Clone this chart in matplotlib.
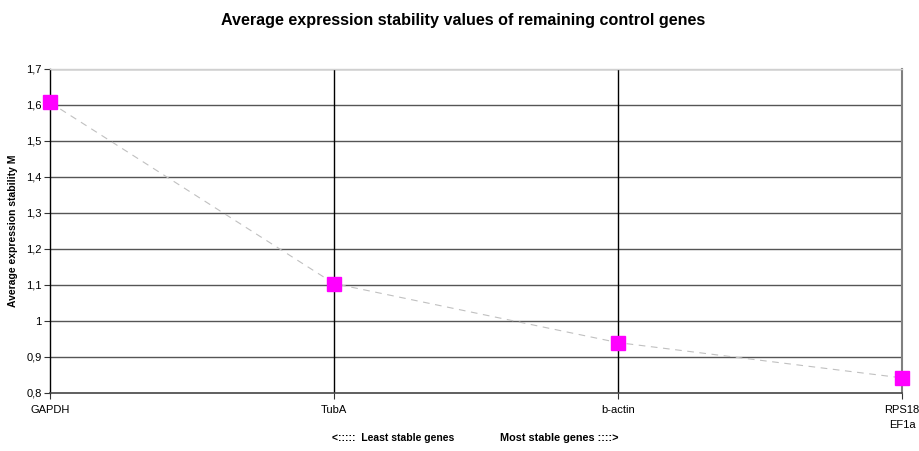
import matplotlib
matplotlib.use("Agg")
import matplotlib.pyplot as plt
import numpy as np

plt.rcParams['font.family'] = ['Liberation Sans', 'DejaVu Sans']

genes = ["GAPDH", "TubA", "b-actin", "RPS18\nEF1a"]
m_values = [1.607, 1.104, 0.940, 0.842]
y_ticks = [0.8, 0.9, 1.0, 1.1, 1.2, 1.3, 1.4, 1.5, 1.6, 1.7]
y_tick_labels = ["0,8", "0,9", "1", "1,1", "1,2", "1,3", "1,4", "1,5", "1,6", "1,7"]

fig = plt.figure(figsize=(9.2, 4.51), dpi=100)
ax = fig.add_axes([50/920, 1-393/451, (902-50)/920, (393-69)/451])

x = np.arange(len(genes))
ax.set_xlim(0, len(genes)-1)
ax.set_ylim(0.8, 1.7)

for yv in y_ticks[1:]:
    ax.axhline(yv, color="#555555", lw=1.0, zorder=1)
for xv in x[1:-1]:
    ax.axvline(xv, color="black", lw=1.0, zorder=1)

ax.plot(x, m_values, linestyle=(0, (6, 5)), color="#c0c0c0", lw=0.8, zorder=2)
ax.plot(x, m_values, linestyle="none", marker="s", markersize=10,
        markerfacecolor="#ff00ff", markeredgecolor="#ff00ff", zorder=3, clip_on=False)

ax.set_xticks(x)
ax.set_xticklabels(genes, fontsize=8, linespacing=1.6)
ax.set_yticks(y_ticks)
ax.set_yticklabels(y_tick_labels, fontsize=8)
ax.tick_params(axis="x", length=4, width=0.8, color="#333333", pad=4.5)
ax.tick_params(axis="y", length=4, width=0.8, color="#333333", pad=2)

ax.spines["left"].set_color("black")
ax.spines["left"].set_linewidth(1.0)
ax.spines["bottom"].set_color("#444444")
ax.spines["bottom"].set_linewidth(1.2)
ax.spines["top"].set_color("#d0d0d0")
ax.spines["top"].set_linewidth(1.0)
ax.spines["right"].set_color("#808080")
ax.spines["right"].set_linewidth(1.5)

ax.set_ylabel("Average expression stability M", fontsize=7.5, fontweight="bold", labelpad=6)
fig.text(454/920, 1-438/451, "<:::::  Least stable genes", ha="right", va="center",
         fontsize=7.5, fontweight="bold")
fig.text(500/920, 1-438/451, "Most stable genes ::::>", ha="left", va="center",
         fontsize=7.8, fontweight="bold")
fig.text(463/920, 1-21/451, "Average expression stability values of remaining control genes",
         ha="center", va="center", fontsize=11.6, fontweight="bold")

fig.savefig("out.png", dpi=100)
